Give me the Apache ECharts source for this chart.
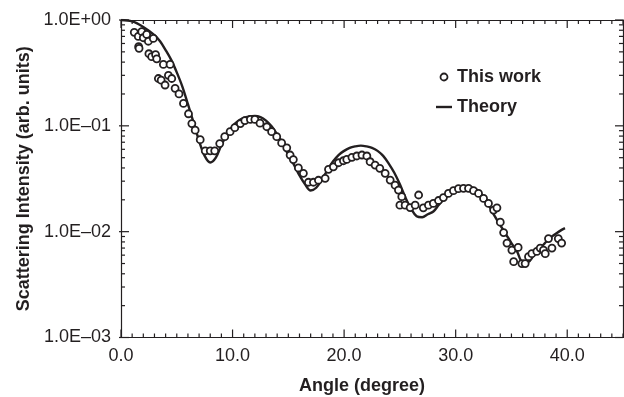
<!DOCTYPE html>
<html><head><meta charset="utf-8">
<script src="https://cdn.jsdelivr.net/npm/echarts@6/dist/echarts.min.js"></script>
<style>html,body{margin:0;padding:0;background:#fff}#c{width:624px;height:397px}</style>
</head><body><div id="c"></div>
<script>
// ---- data ----
const measuredAngle = [1.19,1.55,1.58,1.62,1.86,2.0,2.3,2.45,2.5,2.75,2.9,3.1,3.2,3.35,3.6,3.8,3.95,4.25,4.4,4.55,4.85,5.2,5.6,6.05,6.35,6.65,7.1,7.55,8.0,8.4,8.85,9.3,9.78,10.2,10.7,11.1,11.6,12.0,12.46,13.07,13.5,13.96,14.4,14.86,15.16,15.45,15.9,16.35,16.8,17.25,17.7,18.3,18.6,19.04,19.5,19.94,20.24,20.7,21.14,21.6,22.04,22.33,22.78,23.2,23.68,24.13,24.57,24.87,25.17,25.0,25.47,25.92,26.37,26.68,27.1,27.56,28.0,28.46,28.9,29.35,29.8,30.25,30.7,31.15,31.6,32.05,32.5,32.94,33.4,33.7,34.0,34.3,34.6,35.04,35.2,35.6,35.94,36.23,36.53,36.83,37.28,37.58,37.87,38.03,38.32,38.63,39.2,39.5];
const measuredIntensity = [0.765,0.70,0.56,0.54,0.775,0.68,0.73,0.63,0.48,0.45,0.67,0.47,0.43,0.28,0.27,0.38,0.243,0.30,0.38,0.28,0.226,0.2,0.163,0.13,0.105,0.091,0.074,0.058,0.058,0.058,0.068,0.079,0.088,0.096,0.105,0.112,0.115,0.115,0.106,0.098,0.088,0.079,0.069,0.062,0.053,0.048,0.040,0.0356,0.0293,0.0293,0.0306,0.0319,0.0388,0.041,0.0448,0.0468,0.0482,0.0504,0.0519,0.053,0.0519,0.0458,0.0426,0.0397,0.0356,0.0307,0.0275,0.0247,0.0214,0.0178,0.0178,0.0169,0.0178,0.0222,0.0168,0.0178,0.0185,0.0197,0.021,0.023,0.0244,0.0255,0.0257,0.0257,0.0244,0.023,0.0206,0.0185,0.016,0.0168,0.0123,0.0098,0.0078,0.0067,0.0052,0.0071,0.0050,0.0050,0.0058,0.0062,0.0065,0.0070,0.0067,0.0062,0.0086,0.0070,0.0086,0.0078];
const theoryAngle = [0,1,2,3,3.5,4,4.5,5,5.5,6,6.5,7,7.5,8,8.5,9,9.5,10,10.5,11,11.5,12,12.5,13,13.5,14,14.5,15,15.5,16,16.5,17,17.5,18,18.5,19,19.5,20,20.5,21,21.5,22,22.5,23,23.5,24,24.5,25,25.5,26,26.5,27,27.5,28,28.5,29,29.5,30,30.5,31,31.5,32,32.5,33,33.5,34,34.5,35,35.5,36,36.5,37,37.5,38,38.5,39,39.5,39.8];
const theoryIntensity = [1.0,0.97,0.86,0.72,0.63,0.52,0.42,0.32,0.235,0.16,0.108,0.072,0.052,0.045,0.050,0.066,0.082,0.099,0.111,0.119,0.123,0.124,0.121,0.112,0.099,0.083,0.068,0.053,0.043,0.034,0.028,0.0245,0.026,0.031,0.038,0.046,0.053,0.058,0.062,0.064,0.065,0.064,0.062,0.058,0.052,0.044,0.036,0.028,0.021,0.0165,0.014,0.0137,0.0146,0.0155,0.018,0.0205,0.023,0.025,0.026,0.0265,0.026,0.0245,0.021,0.0175,0.014,0.0115,0.0095,0.0078,0.0065,0.0052,0.0052,0.006,0.0068,0.0078,0.0088,0.0096,0.0104,0.0108];
const seriesNames = ['This work', 'Theory'];
const xTickValues = [0, 10, 20, 30, 40];
const xTickLabels = ['0.0', '10.0', '20.0', '30.0', '40.0'];
const yTickValues = [0.001, 0.01, 0.1, 1];
const yTickLabels = ['1.0E\u201303', '1.0E\u201302', '1.0E\u201301', '1.0E+00'];
const xAxisTitle = 'Angle (degree)';
const yAxisTitle = 'Scattering Intensity (arb. units)';

// ---- styling ----
const ink = '#231f20';
const font = '"Liberation Sans", Arial, Helvetica, sans-serif';
const xMin = 0, xMax = 45, yMin = 0.001, yMax = 1;

// tick positions (frame decoration, drawn through the axes' own scales)
const tickMarks = [];  // [x, y, kind]  kind: 0 = x-major, 1 = x-minor, 2 = y-major, 3 = y-minor
for (let x = xMin; x <= xMax; x += 1) tickMarks.push([x, yMin, x % 10 === 0 ? 0 : 1]);
for (let d = 0; d < yTickValues.length; d++) {
  tickMarks.push([xMin, yTickValues[d], 2]);
  if (d < yTickValues.length - 1) for (let m = 2; m <= 9; m++) tickMarks.push([xMin, yTickValues[d] * m, 3]);
}

function xLabel(v) {
  const i = xTickValues.findIndex(t => Math.abs(t - v) < 1e-6);
  return i >= 0 ? xTickLabels[i] : '';
}
function yLabel(v) {
  const i = yTickValues.findIndex(t => Math.abs(Math.log10(t) - Math.log10(v)) < 1e-6);
  return i >= 0 ? yTickLabels[i] : '';
}

const axisLine = { show: true, onZero: false, lineStyle: { color: ink, width: 1.2 } };
const chart = echarts.init(document.getElementById('c'), null, { renderer: 'canvas' });
chart.setOption({
  animation: false,
  backgroundColor: '#fff',
  textStyle: { fontFamily: font },
  grid: { left: 121, right: 1, top: 20, bottom: 59.5, containLabel: false, outerBoundsMode: 'none' },
  legend: {
    orient: 'vertical', left: 431, top: 63, itemWidth: 16, itemHeight: 7, itemGap: 12,
    textStyle: { fontSize: 18, fontWeight: 'bold', color: ink, fontFamily: font },
    data: [
      { name: seriesNames[0], icon: 'circle', itemStyle: { color: '#fff', borderColor: ink, borderWidth: 1.8 } },
      { name: seriesNames[1], icon: 'path://M0,0h16v2.4h-16z', itemStyle: { color: ink, borderWidth: 0 } }
    ]
  },
  xAxis: [
    {
      type: 'value', min: xMin, max: xMax, interval: 10, position: 'bottom',
      axisLine, splitLine: { show: false }, axisTick: { show: false }, minorTick: { show: false },
      axisLabel: { show: true, formatter: xLabel, fontSize: 18, color: ink, margin: 10, fontFamily: font, showMaxLabel: false },
      name: xAxisTitle, nameLocation: 'middle', nameGap: 40,
      nameTextStyle: { fontSize: 18, fontWeight: 'bold', color: ink, fontFamily: font, padding: [0, 20, 0, 0] }
    },
    {
      type: 'value', min: xMin, max: xMax, interval: 10, position: 'top',
      axisLine, splitLine: { show: false }, axisTick: { show: false }, minorTick: { show: false },
      axisLabel: { show: false }
    }
  ],
  yAxis: [
    {
      type: 'log', logBase: 10, min: yMin, max: yMax, splitNumber: 3, position: 'left',
      axisLine, splitLine: { show: false }, axisTick: { show: false }, minorTick: { show: false },
      axisLabel: { show: true, formatter: yLabel, fontSize: 18, color: ink, margin: 10, fontFamily: font },
      name: yAxisTitle, nameLocation: 'middle', nameGap: 86,
      nameTextStyle: { fontSize: 18, fontWeight: 'bold', color: ink, fontFamily: font }
    },
    {
      type: 'log', logBase: 10, min: yMin, max: yMax, splitNumber: 3, position: 'right',
      axisLine, splitLine: { show: false }, axisTick: { show: false }, minorTick: { show: false },
      axisLabel: { show: false }
    }
  ],
  series: [
    {
      type: 'custom', name: 'frame-ticks', coordinateSystem: 'cartesian2d', xAxisIndex: 0, yAxisIndex: 0,
      silent: true, clip: false, z: 10,
      data: tickMarks, encode: { x: 0, y: 1 },
      renderItem: (params, api) => {
        const kind = api.value(2);
        const st = { stroke: ink, lineWidth: 1.2 };
        if (kind <= 1) {
          const x = api.value(0);
          const b = api.coord([x, yMin]);
          const t = api.coord([x, yMax]);
          const len = kind === 0 ? 8 : 4;
          return { type: 'group', children: [
            { type: 'line', shape: { x1: b[0], y1: b[1], x2: b[0], y2: b[1] - len }, style: st },
            { type: 'line', shape: { x1: t[0], y1: t[1], x2: t[0], y2: t[1] + len }, style: st }
          ] };
        }
        const v = api.value(1);
        const l = api.coord([xMin, v]);
        const r = api.coord([xMax, v]);
        const len = kind === 2 ? 8 : 4;
        return { type: 'group', children: [
          { type: 'line', shape: { x1: l[0] - (kind === 2 ? 2 : 0), y1: l[1], x2: l[0] + len, y2: l[1] }, style: st },
          { type: 'line', shape: { x1: r[0] - len, y1: r[1], x2: r[0], y2: r[1] }, style: st }
        ] };
      }
    },
    {
      type: 'line', name: seriesNames[1], xAxisIndex: 0, yAxisIndex: 0,
      data: theoryAngle.map((x, i) => [x, theoryIntensity[i]]),
      symbol: 'none', smooth: 0.35, z: 2,
      lineStyle: { color: ink, width: 2.4 }, itemStyle: { color: ink }
    },
    {
      type: 'scatter', name: seriesNames[0], xAxisIndex: 0, yAxisIndex: 0,
      data: measuredAngle.map((x, i) => [x, measuredIntensity[i]]),
      symbol: 'circle', symbolSize: 7, z: 3,
      itemStyle: { color: '#fff', borderColor: ink, borderWidth: 1.8, opacity: 1 }
    }
  ]
});
</script></body></html>
